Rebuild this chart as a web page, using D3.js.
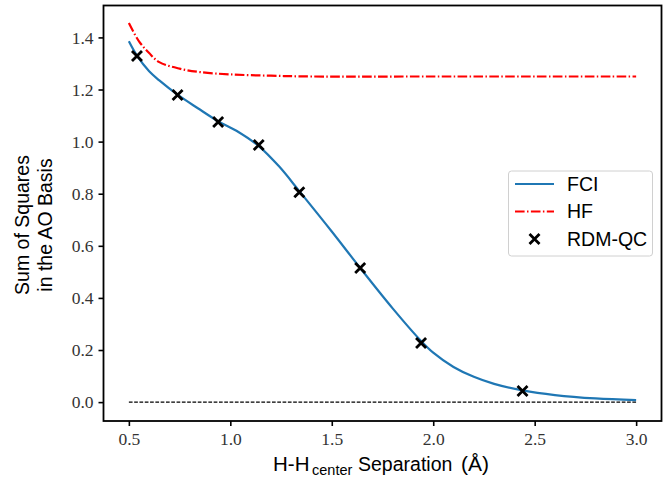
<!DOCTYPE html>
<html>
<head>
<meta charset="utf-8">
<script src="https://cdn.jsdelivr.net/npm/d3@7"></script>
<style>
  body { margin: 0; background: #fff; }
  svg { display: block; }
  .lab { font-family: "Liberation Sans", Arial, sans-serif; font-size: 19.5px; fill: #000; }
</style>
</head>
<body>
<svg id="chart" width="667" height="481"></svg>
<script>
// FCI curve
const fciX = [0.5, 0.54, 0.6, 0.65, 0.74, 0.84, 0.94, 1.04, 1.14, 1.24, 1.34, 1.5, 1.64, 1.8, 1.94, 2.0, 2.1, 2.2, 2.3, 2.44, 2.6, 2.8, 3.0];
const fciY = [1.385, 1.33, 1.27, 1.235, 1.18, 1.128, 1.078, 1.037, 0.983, 0.905, 0.81, 0.655, 0.515, 0.36, 0.235, 0.19, 0.135, 0.097, 0.07, 0.045, 0.027, 0.014, 0.008];

// HF curve
const hfX = [0.5, 0.55, 0.6, 0.65, 0.75, 0.85, 1.0, 1.2, 1.4, 2.0, 2.5, 3.0];
const hfY = [1.455, 1.385, 1.34, 1.305, 1.28, 1.267, 1.258, 1.253, 1.25, 1.25, 1.25, 1.25];

// RDM-QC points
const qcX = [0.54, 0.74, 0.94, 1.14, 1.34, 1.64, 1.94, 2.44];
const qcY = [1.329, 1.179, 1.075, 0.987, 0.806, 0.515, 0.227, 0.043];

const xTicks = [0.5, 1.0, 1.5, 2.0, 2.5, 3.0];
const yTicks = [0.0, 0.2, 0.4, 0.6, 0.8, 1.0, 1.2, 1.4];

const svg = d3.select("#chart");
const mLeft = 103.5, mRight = 661.5, mTop = 5.5, mBottom = 421;

const x = d3.scaleLinear().domain([0.375, 3.125]).range([mLeft, mRight]);
const y = d3.scaleLinear().domain([-0.0725, 1.5225]).range([mBottom, mTop]);

// zero reference line
svg.append("line")
  .attr("x1", x(0.5)).attr("x2", x(3.0))
  .attr("y1", y(0)).attr("y2", y(0))
  .attr("stroke", "#000").attr("stroke-width", 1.1)
  .attr("stroke-dasharray", "3.7,1.6");

const line = d3.line().curve(d3.curveCatmullRom.alpha(0.5));

svg.append("path")
  .attr("d", line(fciX.map((v, i) => [x(v), y(fciY[i])])))
  .attr("fill", "none").attr("stroke", "#1f77b4").attr("stroke-width", 2.2);

svg.append("path")
  .attr("d", line(hfX.map((v, i) => [x(v), y(hfY[i])])))
  .attr("fill", "none").attr("stroke", "#ff0000").attr("stroke-width", 2.2)
  .attr("stroke-dasharray", "9.6,2.4,1.5,2.4");

function cross(g, cx, cy, r) {
  g.append("path")
    .attr("d", `M${cx - r},${cy - r}L${cx + r},${cy + r}M${cx - r},${cy + r}L${cx + r},${cy - r}`)
    .attr("stroke", "#000").attr("stroke-width", 2.8).attr("fill", "none");
}
const pts = svg.append("g");
qcX.forEach((v, i) => cross(pts, x(v), y(qcY[i]), 5));

// axes
function styleAxis(g) {
  g.select(".domain").remove();
  g.selectAll(".tick line").attr("stroke-width", 1.6);
  g.selectAll(".tick text")
    .attr("font-family", "'Liberation Serif', serif")
    .attr("font-size", 17.5)
    .attr("fill", "#333");
}

svg.append("g").attr("transform", `translate(0,${mBottom})`)
  .call(d3.axisBottom(x).tickValues(xTicks).tickFormat(d3.format(".1f")).tickSize(5).tickPadding(7))
  .call(styleAxis);

svg.append("g").attr("transform", `translate(${mLeft},0)`)
  .call(d3.axisLeft(y).tickValues(yTicks).tickFormat(d3.format(".1f")).tickSize(5).tickPadding(5))
  .call(styleAxis);

svg.append("rect")
  .attr("x", mLeft).attr("y", mTop).attr("width", mRight - mLeft).attr("height", mBottom - mTop)
  .attr("fill", "none").attr("stroke", "#000").attr("stroke-width", 1.8);

// axis labels
const xl = svg.append("text").attr("class", "lab").attr("y", 470.5);
xl.append("tspan").attr("x", 273).attr("font-size", 20.5).text("H-H");
xl.append("tspan").attr("x", 312).attr("font-size", 14.5).attr("dy", 4.5).text("center");
xl.append("tspan").attr("x", 358).attr("dy", -4.5).text("Separation");
xl.append("tspan").attr("x", 461).attr("font-size", 21).text("(Å)");

const yl = svg.append("g").attr("transform", "translate(0,225) rotate(-90)");
yl.append("text").attr("class", "lab").attr("x", 0).attr("y", 29).attr("text-anchor", "middle").text("Sum of Squares");
yl.append("text").attr("class", "lab").attr("x", 0).attr("y", 52).attr("text-anchor", "middle").text("in the AO Basis");

// legend
const lg = svg.append("g");
lg.append("rect").attr("x", 508.5).attr("y", 171).attr("width", 144).attr("height", 85)
  .attr("rx", 3).attr("fill", "#fff").attr("fill-opacity", 0.8)
  .attr("stroke", "#d0d0d0").attr("stroke-width", 1);
const legendNames = ["FCI", "HF", "RDM-QC"];
legendNames.forEach((name, i) => {
  const ly = 184 + i * 27.5;
  if (i === 0) {
    lg.append("line").attr("x1", 515).attr("x2", 554).attr("y1", ly).attr("y2", ly)
      .attr("stroke", "#1f77b4").attr("stroke-width", 2.2);
  } else if (i === 1) {
    lg.append("line").attr("x1", 515).attr("x2", 554).attr("y1", ly).attr("y2", ly)
      .attr("stroke", "#ff0000").attr("stroke-width", 2.2).attr("stroke-dasharray", "9.6,2.4,1.5,2.4");
  } else {
    cross(lg, 534.5, ly, 5);
  }
  lg.append("text").attr("class", "lab").attr("font-size", 18)
    .attr("x", 567).attr("y", ly + 6.5).text(name);
});
</script>
</body>
</html>
